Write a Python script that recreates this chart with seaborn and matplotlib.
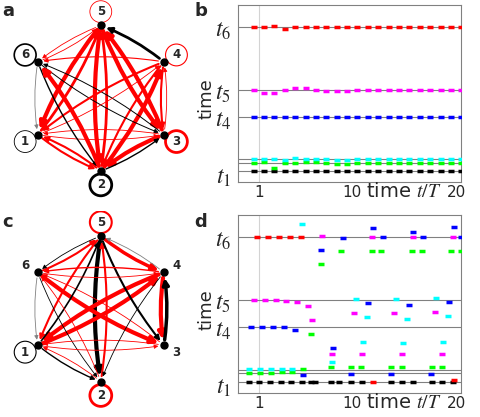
import numpy as np
import matplotlib
matplotlib.use("Agg")
import matplotlib.pyplot as plt
import seaborn as sns
from matplotlib.patches import FancyArrowPatch, Circle

sns.set_style("white")
plt.rcParams['font.family'] = ['DejaVu Sans']
plt.rcParams['mathtext.fontset'] = 'stix'

# ---- network data: (src, dst, color, width)
nodes = [1, 2, 3, 4, 5, 6]
node_angles = {5: 90, 4: 30, 3: -30, 2: -90, 1: 210, 6: 150}
edges_a = [(5,2,'r',3),(2,5,'r',2),(5,3,'r',3),(3,5,'r',3),(4,5,'k',2),(5,1,'r',3),(1,5,'r',2),
           (2,4,'r',3),(4,2,'r',1.5),(3,2,'r',3),(2,3,'k',1),(6,3,'k',0.7),(3,6,'k',0.7),
           (4,6,'r',0.8),(1,4,'r',0.6),(4,1,'r',1.5),(1,3,'r',0.6),(3,1,'r',0.6),(6,2,'k',1),
           (2,6,'r',3),(4,3,'r',1.5),(3,4,'r',0.6),(6,1,'gray',0.6),(2,1,'r',1.5),(1,2,'r',1.5),
           (6,5,'r',0.6),(5,6,'r',0.6)]
loops_a = {5: ('r',0.6), 4: ('r',0.8), 3: ('r',2), 2: ('k',2), 1: ('k',0.6), 6: ('k',1.2)}
edges_c = [(5,2,'k',3),(2,5,'r',1.5),(4,1,'r',3),(1,4,'r',3),(6,3,'r',3),(3,6,'r',0.6),
           (4,3,'r',3),(3,4,'k',2.5),(5,4,'r',2.5),(4,5,'gray',0.6),(5,1,'r',1.5),(1,5,'k',1.2),
           (5,3,'k',1.5),(6,4,'r',0.6),(4,6,'r',1),(6,5,'r',1.5),(5,6,'k',0.6),(1,2,'k',1),
           (2,1,'r',0.6),(6,2,'k',0.6),(2,6,'r',0.6),(1,3,'r',0.6),(3,1,'r',0.6),(6,1,'gray',0.6),
           (4,2,'k',0.6)]
loops_c = {5: ('r',1.5), 2: ('r',2), 1: ('k',0.8)}

# ---- panel b data
b_x = np.arange(0.5, 21.0, 1.0)
b_black = [0]*21
b_green = [8,9,3,8,8,9,9,8,7,7,8,8,8,8,8,8,8,8,8,8,8]
b_cyan = [12,12,12,11,13,12,12,12,11,11,12,12,12,12,12,12,12,12,12,12,12]
b_blue = [54]*21
b_magenta = [81,78,78,81,83,83,81,80,80,80,81,81,81,81,81,81,81,81,81,81,81]
b_red = [144,144,145,142,144,144,144,144,144,144,144,144,144,144,144,144,144,144,144,144,144]
b_levels = [0, 8.7, 12.3, 54, 81, 144]

# ---- panel d data
d_red_x = [0.84,1.9,2.94,4.0,5.06,11.97,19.8]
d_red_y = [144,144,144,144,144,0,1.7]
d_mag_x = [0.52,1.55,2.61,3.65,4.71,5.74,6.16,7.13,8.03,10.2,10.94,11.9,14.06,14.81,15.84,17.94,18.68,19.71]
d_mag_y = [81.7,81.7,81.7,80.7,79.7,75,61.3,145,28,68.7,28,144,68,28,144,69.3,28,144]
d_blue_x = [0.29,1.32,2.39,3.42,4.48,5.26,7.03,8.1,9.06,9.87,11.48,11.97,12.94,13.74,15.42,15.84,16.8,17.6,19.32,19.77,20.5]
d_blue_y = [54.3,54.3,54,54,51.7,6.7,130.7,34,143,7.7,78.7,153.3,144,8,76.7,149.3,144,8,79.3,154,144]
d_cyan_x = [0.1,1.13,2.16,3.19,4.23,5.13,8.0,10.35,11.39,11.0,14.19,15.29,14.87,18.1,19.2,18.74]
d_cyan_y = [12.3,12.3,12.3,12.3,12.7,157,19.7,82.7,64.7,39.7,82.7,62.7,38.3,83.3,65.3,40]
d_green_x = [0.03,1.13,2.16,3.19,4.23,5.26,6.06,6.97,7.97,8.94,9.9,10.87,11.87,12.8,13.77,14.77,15.74,16.71,17.68,18.6,19.55,20.5]
d_green_y = [8.7,8.7,8.7,9.3,9.7,13,47,117,14.3,129.7,14.3,14.3,130,130,14.3,14.3,130,130,14.3,14.3,130,130]
d_black_x = [0.03,1.0,2.03,3.1,4.13,5.19,6.0,6.42,7.94,8.74,9.87,10.94,13.74,14.81,15.84,17.68,18.68,19.71]
d_black_y = [0]*18
d_levels = [0, 8.7, 11.7, 54, 81, 144]

tick_pos = [-3, 54, 81, 144]
tick_lab = ['$t_1$', '$t_4$', '$t_5$', '$t_6$']

fig = plt.figure(figsize=(4.8, 4.17), dpi=100)

def draw_net(ax, edges, loops):
    pos = {n: (np.cos(np.radians(a)), np.sin(np.radians(a))) for n, a in node_angles.items()}
    for s, d, c, w in edges:
        col = {'r': 'red', 'k': 'black', 'gray': 'gray'}[c]
        ar = FancyArrowPatch(pos[s], pos[d], arrowstyle='-|>', mutation_scale=5 + 1.6 * w,
                             connectionstyle='arc3,rad=0.08', color=col, lw=w,
                             shrinkA=4, shrinkB=4, zorder=2)
        ax.add_patch(ar)
    for n, (x, y) in pos.items():
        ax.plot(x, y, 'o', color='black', ms=5, zorder=3)
        lx, ly = x * 1.2, y * 1.19
        ax.text(lx, ly, str(n), ha='center', va='center', fontsize=8.5, fontweight='bold', zorder=4)
        if n in loops:
            c, w = loops[n]
            ax.add_patch(Circle((lx, ly), 0.15, fill=False, lw=w,
                                ec={'r': 'red', 'k': 'black'}[c], zorder=1))
    ax.set_xlim(-1.35, 1.35)
    ax.set_ylim(-1.4, 1.35)
    ax.set_aspect('equal')
    ax.axis('off')

axa = fig.add_axes([0.0, 0.52, 0.42, 0.48])
draw_net(axa, edges_a, loops_a)
axc = fig.add_axes([0.0, 0.015, 0.42, 0.48])
draw_net(axc, edges_c, loops_c)

def setup_ts(ax, levels):
    for lv in levels:
        ax.axhline(lv, color='gray', lw=0.8, zorder=1)
    ax.axvline(1, color='lightgray', lw=0.8, zorder=0)
    ax.set_xlim(-1.0, 20.5)
    ax.set_ylim(-11, 166)
    ax.set_xticks([1, 10, 20])
    ax.set_xticklabels(['1', '10', '20'], fontsize=11)
    ax.set_yticks(tick_pos)
    ax.set_yticklabels(tick_lab, fontsize=17)
    ax.tick_params(axis='y', length=0, pad=5)
    ax.tick_params(axis='x', length=0, pad=2)
    ax.set_ylabel('time', fontsize=13)
    ax.yaxis.set_label_coords(-0.1, 0.47)
    ax.text(15, -11, 'time $t/T$', fontsize=14, ha='center', va='top')
    for sp in ax.spines.values():
        sp.set_color('gray')

def dashes(ax, x, y, col):
    ax.plot(x, y, ls='none', marker='_', ms=5, mew=2.5, color=col, zorder=3)

axb = fig.add_axes([0.496, 0.563, 0.465, 0.425])
setup_ts(axb, b_levels)
for y, col in [(b_black, 'black'), (b_green, 'lime'), (b_cyan, 'cyan'), (b_blue, 'blue'),
               (b_magenta, 'magenta'), (b_red, 'red')]:
    dashes(axb, b_x, y, col)

axd = fig.add_axes([0.496, 0.058, 0.465, 0.427])
setup_ts(axd, d_levels)
for x, y, col in [(d_black_x, d_black_y, 'black'), (d_green_x, d_green_y, 'lime'),
                  (d_cyan_x, d_cyan_y, 'cyan'), (d_blue_x, d_blue_y, 'blue'),
                  (d_mag_x, d_mag_y, 'magenta'), (d_red_x, d_red_y, 'red')]:
    dashes(axd, x, y, col)

for lab, (x, y) in zip('abcd', [(0.005, 0.995), (0.405, 0.995), (0.005, 0.49), (0.405, 0.49)]):
    fig.text(x, y, lab, fontsize=13, fontweight='bold', va='top')

fig.savefig('out.png', dpi=100)
